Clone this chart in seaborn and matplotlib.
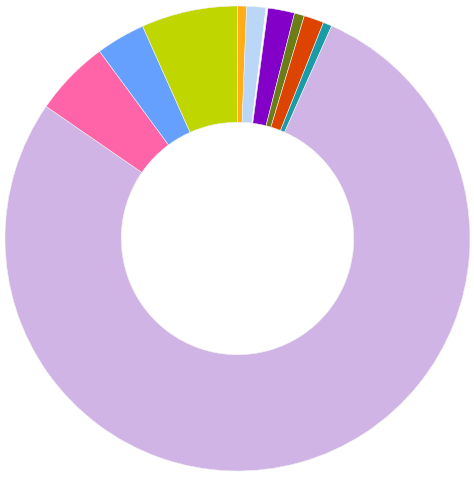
import numpy as np
import matplotlib
matplotlib.use('Agg')
import matplotlib.pyplot as plt
import seaborn as sns

# Fatias em ordem horária a partir do topo
labels = ['A', 'B', 'gap', 'C', 'D', 'E', 'F', 'G', 'H', 'I', 'J']
values = [0.63, 1.33, 0.14, 1.85, 0.69, 1.39, 0.61, 78.0, 5.28, 3.42, 6.69]
colors = ['#FFAE1A', '#BAD7F8', '#FFFFFF', '#8200C8', '#6B7E16', '#DD4400',
          '#1A9BA8', '#D0B4E6', '#FF64A8', '#66A0FF', '#C0D600']

sns.set_style('white')

fig = plt.figure(figsize=(4.74, 4.78), dpi=100)
ax = fig.add_axes([5 / 474, 7 / 478, 465 / 474, 465 / 478])

ax.pie(values, colors=colors, startangle=90, counterclock=False,
       radius=1.0, wedgeprops=dict(width=0.5, edgecolor='#F2F2F2', linewidth=0.4))
ax.set_xlim(-1, 1)
ax.set_ylim(-1, 1)
ax.set_aspect('equal')
ax.axis('off')

plt.savefig('out.png', dpi=100)
